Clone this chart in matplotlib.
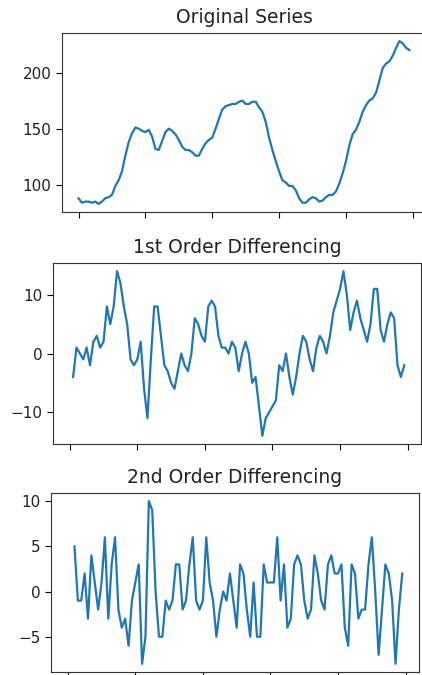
import numpy as np
import pandas as pd
import matplotlib
matplotlib.use('Agg')
import matplotlib.pyplot as plt

# WWWUsage series
values = [88, 84, 85, 85, 84, 85, 83, 85, 88, 89, 91, 99, 104, 112, 126, 138, 146, 151,
          150, 148, 147, 149, 143, 132, 131, 139, 147, 150, 148, 145, 140, 134, 131, 131,
          129, 126, 126, 132, 137, 140, 142, 150, 159, 167, 170, 171, 172, 172, 174, 175,
          172, 172, 174, 174, 169, 165, 156, 142, 131, 121, 112, 104, 102, 99, 99, 95, 88,
          84, 84, 87, 89, 88, 85, 86, 89, 91, 91, 94, 101, 110, 121, 135, 145, 149, 156,
          165, 171, 175, 177, 182, 193, 204, 208, 210, 215, 222, 228, 226, 222, 220]
titles = ['Original Series', '1st Order Differencing', '2nd Order Differencing']

series = pd.Series(values)
curves = [series, series.diff(), series.diff().diff()]

W, H = 422, 675
fig = plt.figure(figsize=(W / 100, H / 100), dpi=100)

# axes boxes in pixels: left, top, right, bottom
boxes = [(62, 33, 426, 212), (53, 263, 421, 444), (51, 493, 419, 672)]

for (l, t, r, b), ttl, c in zip(boxes, titles, curves):
    ax = fig.add_axes([l / W, 1 - b / H, (r - l) / W, (b - t) / H])
    ax.plot(c.index, c.values, color='#1f77b4', lw=1.6)
    ax.set_xlim(-4.95, 103.95)
    ax.set_xticks([0, 20, 40, 60, 80, 100])
    ax.set_xticklabels([])
    ax.set_title(ttl, fontsize=13.5, pad=7, color='#222222')
    ax.tick_params(labelsize=11, length=4, labelcolor='#222222')
    for s in ax.spines.values():
        s.set_color('#333333')

fig.savefig('out.png', dpi=100)
